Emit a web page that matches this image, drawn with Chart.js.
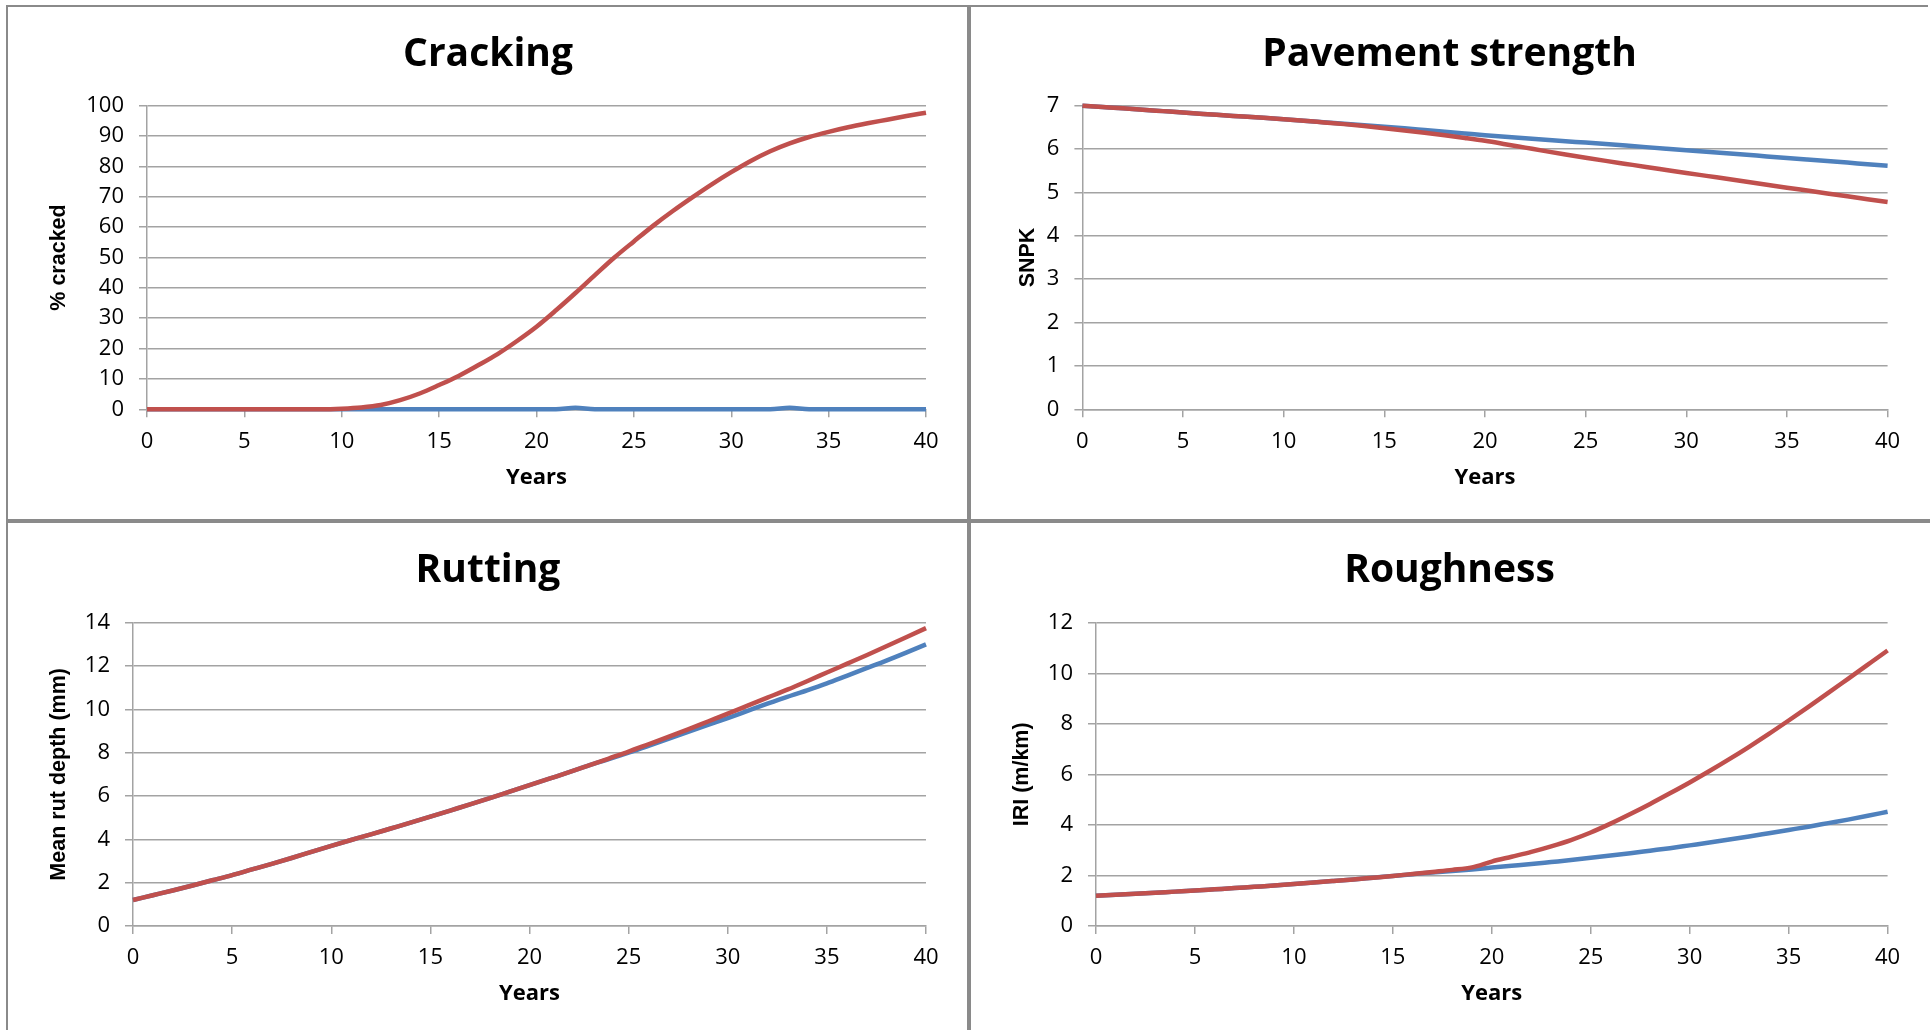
<!DOCTYPE html>
<html>
<head>
<meta charset="utf-8">
<title>Pavement deterioration</title>
<script src="https://cdn.jsdelivr.net/npm/chart.js@4.4.1/dist/chart.umd.min.js"></script>
<style>
  html, body { margin: 0; padding: 0; background: #fff; }
  body { position: relative; width: 1930px; height: 1030px; overflow: hidden; }
  .panel { position: absolute; }
  .rule { position: absolute; background: #8a8a8a; }
</style>
</head>
<body>
<!-- frame and panel dividers -->
<div class="rule" style="left:7px; top:5px; width:1921px; height:2px;"></div>
<div class="rule" style="left:6px; top:5px; width:2px; height:1025px;"></div>
<div class="rule" style="left:967px; top:5px; width:4px; height:1025px;"></div>
<div class="rule" style="left:7px; top:519px; width:1923px; height:4px;"></div>

<div class="panel" style="left:9px; top:8px; width:958px; height:511px;"><canvas id="cracking"></canvas></div>
<div class="panel" style="left:971px; top:8px; width:957px; height:511px;"><canvas id="strength"></canvas></div>
<div class="panel" style="left:9px; top:523px; width:958px; height:507px;"><canvas id="rutting"></canvas></div>
<div class="panel" style="left:971px; top:523px; width:957px; height:507px;"><canvas id="roughness"></canvas></div>

<script>
// Years on the x axis
const years = [0, 1, 2, 3, 4, 5, 6, 7, 8, 9, 10, 11, 12, 13, 14, 15, 16, 17, 18, 19, 20,
               21, 22, 23, 24, 25, 26, 27, 28, 29, 30, 31, 32, 33, 34, 35, 36, 37, 38, 39, 40];
const xTicks = [0, 5, 10, 15, 20, 25, 30, 35, 40];

// Cracking (% cracked)
const crackBlue = [0, 0, 0, 0, 0, 0, 0, 0, 0, 0, 0, 0, 0, 0, 0, 0, 0, 0, 0, 0, 0,
                   0, 0.5, 0, 0, 0, 0, 0, 0, 0, 0, 0, 0, 0.5, 0, 0, 0, 0, 0, 0, 0];
const crackRed = [0, 0, 0, 0, 0, 0, 0, 0, 0, 0, 0.2, 0.6, 1.4, 3.0, 5.2, 8.0, 11.0, 14.5, 18.2, 22.5, 27.2,
                  32.6, 38.3, 44.2, 50.0, 55.3, 60.5, 65.3, 69.8, 74.1, 78.1, 81.8, 85.0, 87.6, 89.7, 91.4,
                  92.9, 94.2, 95.4, 96.6, 97.7];

// Pavement strength (SNPK)
const strengthBlue = [7.00, 6.97, 6.94, 6.905, 6.875, 6.845, 6.81, 6.78, 6.75, 6.72, 6.69, 6.655, 6.62,
                      6.585, 6.55, 6.515, 6.48, 6.44, 6.40, 6.36, 6.32, 6.285, 6.25, 6.215, 6.18, 6.15,
                      6.115, 6.08, 6.045, 6.01, 5.975, 5.94, 5.905, 5.87, 5.83, 5.795, 5.76, 5.725, 5.69,
                      5.65, 5.615];
const strengthRed = [7.00, 6.97, 6.94, 6.905, 6.875, 6.845, 6.81, 6.78, 6.75, 6.72, 6.69, 6.655, 6.615,
                     6.575, 6.53, 6.48, 6.43, 6.377, 6.32, 6.257, 6.19, 6.113, 6.033, 5.953, 5.875, 5.80,
                     5.728, 5.658, 5.588, 5.519, 5.45, 5.382, 5.314, 5.246, 5.178, 5.11, 5.043, 4.976,
                     4.91, 4.845, 4.78];

// Rutting (mean rut depth, mm)
const rutBlue = [1.20, 1.42, 1.64, 1.87, 2.11, 2.35, 2.61, 2.87, 3.14, 3.42, 3.70, 3.97, 4.23, 4.50,
                 4.77, 5.05, 5.33, 5.61, 5.90, 6.20, 6.50, 6.80, 7.10, 7.41, 7.70, 8.00, 8.32, 8.64,
                 8.96, 9.28, 9.60, 9.93, 10.26, 10.58, 10.88, 11.20, 11.55, 11.90, 12.25, 12.62, 13.00];
const rutRed = [1.20, 1.42, 1.64, 1.87, 2.11, 2.35, 2.61, 2.87, 3.14, 3.42, 3.70, 3.97, 4.23, 4.50,
                4.77, 5.05, 5.33, 5.61, 5.90, 6.20, 6.50, 6.80, 7.10, 7.41, 7.73, 8.05, 8.39, 8.73,
                9.08, 9.44, 9.80, 10.17, 10.54, 10.91, 11.30, 11.70, 12.10, 12.50, 12.91, 13.33, 13.75];

// Roughness (IRI, m/km)
const roughBlue = [1.20, 1.24, 1.28, 1.32, 1.36, 1.40, 1.45, 1.50, 1.55, 1.60, 1.66, 1.72, 1.78, 1.84,
                   1.91, 1.98, 2.05, 2.12, 2.18, 2.24, 2.31, 2.38, 2.45, 2.53, 2.61, 2.70, 2.79, 2.88,
                   2.98, 3.08, 3.19, 3.30, 3.42, 3.54, 3.67, 3.80, 3.93, 4.07, 4.21, 4.36, 4.52];
const roughRed = [1.20, 1.24, 1.28, 1.32, 1.36, 1.40, 1.45, 1.50, 1.55, 1.60, 1.66, 1.72, 1.78, 1.84,
                  1.91, 1.98, 2.06, 2.14, 2.22, 2.32, 2.55, 2.74, 2.93, 3.15, 3.40, 3.70, 4.05, 4.43,
                  4.83, 5.25, 5.68, 6.13, 6.60, 7.09, 7.60, 8.13, 8.67, 9.22, 9.78, 10.34, 10.90];

const RED  = '#C0504D';
const BLUE = '#4F81BD';
const GRID = '#a3a3a3';
const TEXT_FONT = "'Open Sans', sans-serif";
const AXIS_FONT = "'Liberation Sans', Arial, sans-serif";

function toPoints(values) {
    return years.map((x, i) => ({ x, y: values[i] }));
}

/**
 * One panel of the 2x2 grid. Sizes in `o` pin the plot area
 * so the four charts line up like the original sheet.
 */
function buildPanel(id, o) {
    const ctx = document.getElementById(id).getContext('2d');
    const line = (label, values, color, order) => ({
        label,
        data: toPoints(values),
        borderColor: color,
        backgroundColor: color,
        borderWidth: 4.5,
        pointRadius: 0,
        cubicInterpolationMode: 'monotone',
        clip: false,
        order,
    });

    return new Chart(ctx, {
        type: 'line',
        data: {
            datasets: [
                line('Blue', o.blue, BLUE, 1),
                line('Red', o.red, RED, 0),
            ]
        },
        options: {
            responsive: true,
            maintainAspectRatio: false,
            animation: false,
            layout: { padding: 0 },
            plugins: {
                legend: { display: false },
                tooltip: { enabled: false },
                title: {
                    display: true,
                    text: o.title,
                    color: '#000',
                    font: { family: TEXT_FONT, size: 39, weight: 'bold' },
                    padding: { top: o.titleTop, bottom: o.titleBottom },
                }
            },
            scales: {
                x: {
                    type: 'linear',
                    min: xTicks[0],
                    max: xTicks[xTicks.length - 1],
                    afterBuildTicks: (s) => { s.ticks = xTicks.map(v => ({ value: v })); },
                    ticks: {
                        color: '#000',
                        padding: 11,
                        maxRotation: 0,
                        font: { family: TEXT_FONT, size: 22 },
                    },
                    grid: { drawOnChartArea: false, tickLength: 8, color: GRID, lineWidth: 1.5 },
                    border: { color: GRID, width: 1.5 },
                    title: {
                        display: true,
                        text: 'Years',
                        color: '#000',
                        font: { family: TEXT_FONT, size: 22, weight: 'bold' },
                        padding: { top: 0, bottom: o.yearsPad },
                    },
                    afterFit: (s) => { s.height = o.xHeight; },
                },
                y: {
                    min: 0,
                    max: o.yTicks[o.yTicks.length - 1],
                    afterBuildTicks: (s) => { s.ticks = o.yTicks.map(v => ({ value: v })); },
                    ticks: {
                        color: '#000',
                        padding: 15,
                        font: { family: TEXT_FONT, size: 22 },
                    },
                    grid: { tickLength: 8, color: GRID, lineWidth: 1.5 },
                    border: { color: GRID, width: 1.5 },
                    title: {
                        display: true,
                        text: o.yTitle,
                        color: '#000',
                        font: { family: AXIS_FONT, size: 21.5, weight: 'bold' },
                        padding: { top: o.yTitlePad, bottom: 0 },
                    },
                    afterFit: (s) => { s.width = o.yWidth; },
                },
                // empty right-hand strip so the title stays centred on the panel
                gap: {
                    position: 'right',
                    grid: { display: false },
                    border: { display: false },
                    ticks: { display: false },
                    afterFit: (s) => { s.width = o.rightWidth; },
                }
            }
        }
    });
}

buildPanel('cracking', {
    title: 'Cracking', yTitle: '% cracked',
    blue: crackBlue, red: crackRed,
    yTicks: [0, 10, 20, 30, 40, 50, 60, 70, 80, 90, 100],
    titleTop: 23.1, titleBottom: 27.8,
    xHeight: 109.7, yearsPad: 27.6,
    yWidth: 138, yTitlePad: 37, rightWidth: 41,
});

buildPanel('strength', {
    title: 'Pavement strength', yTitle: 'SNPK',
    blue: strengthBlue, red: strengthRed,
    yTicks: [0, 1, 2, 3, 4, 5, 6, 7],
    titleTop: 23.1, titleBottom: 27.8,
    xHeight: 109.7, yearsPad: 27.6,
    yWidth: 111.4, yTitlePad: 44, rightWidth: 40.4,
});

buildPanel('rutting', {
    title: 'Rutting', yTitle: 'Mean rut depth (mm)',
    blue: rutBlue, red: rutRed,
    yTicks: [0, 2, 4, 6, 8, 10, 12, 14],
    titleTop: 24.1, titleBottom: 28.8,
    xHeight: 104, yearsPad: 23.3,
    yWidth: 124, yTitlePad: 37, rightWidth: 41,
});

buildPanel('roughness', {
    title: 'Roughness', yTitle: 'IRI (m/km)',
    blue: roughBlue, red: roughRed,
    yTicks: [0, 2, 4, 6, 8, 10, 12],
    titleTop: 24.1, titleBottom: 28.8,
    xHeight: 104, yearsPad: 23.3,
    yWidth: 125, yTitlePad: 38, rightWidth: 40.4,
});
</script>
</body>
</html>
